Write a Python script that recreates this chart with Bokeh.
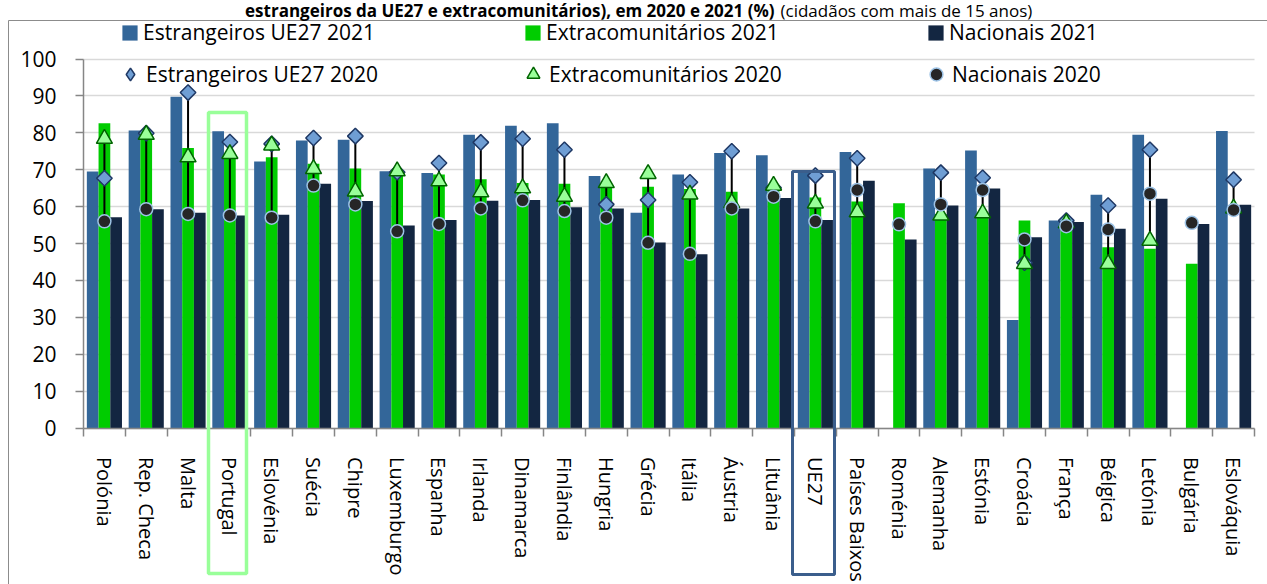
import math
import numpy as np
from bokeh.plotting import figure
from bokeh.models import (ColumnDataSource, Range1d, FixedTicker, Legend, LegendItem,
                          BoxAnnotation, Label, Grid)
from bokeh.transform import dodge
from bokeh.embed import file_html
from bokeh.resources import INLINE

nan = float("nan")

countries = ["Polónia", "Rep. Checa", "Malta", "Portugal", "Eslovénia", "Suécia", "Chipre",
             "Luxemburgo", "Espanha", "Irlanda", "Dinamarca", "Finlândia", "Hungria", "Grécia",
             "Itália", "Áustria", "Lituânia", "UE27", "Países Baixos", "Roménia", "Alemanha",
             "Estónia", "Croácia", "França", "Bélgica", "Letónia", "Bulgária", "Eslováquia"]

ue_2021 = [69.5, 80.6, 89.8, 80.4, 72.2, 77.9, 78.1, 69.6, 69.1, 79.5, 81.9, 82.6, 68.3, 58.3,
           68.7, 74.5, 73.9, 69.8, 74.8, nan, 70.3, 75.2, 29.3, 56.2, 63.2, 79.5, nan, 80.5]
extra_2021 = [82.6, 80.0, 75.9, 74.0, 73.4, 71.6, 70.3, 69.5, 68.7, 67.4, 66.4, 66.2, 65.8, 65.4,
              64.8, 64.0, 64.5, 62.5, 61.4, 60.9, 58.0, 57.5, 56.2, 55.4, 49.0, 48.6, 44.5, nan]
nac_2021 = [57.1, 59.3, 58.3, 57.6, 57.8, 66.2, 61.5, 54.9, 56.4, 61.6, 61.8, 59.8, 59.5, 50.3,
            47.1, 59.5, 62.3, 56.4, 67.0, 51.1, 60.3, 64.9, 51.7, 55.8, 54.0, 62.1, 55.3, 60.5]

ue_2020 = [67.7, 79.9, 90.9, 77.5, 77.0, 78.6, 79.1, 69.3, 71.8, 77.4, 78.4, 75.4, 60.6, 61.8,
           66.6, 75.0, 65.1, 68.4, 73.1, nan, 69.2, 67.8, 44.8, 56.2, 60.3, 75.4, nan, 67.3]
extra_2020 = [78.4, 79.5, 73.4, 74.3, 76.6, 70.2, 64.1, 69.6, 66.9, 63.9, 65.0, 62.7, 66.4, 68.9,
              63.3, 61.0, 65.7, 60.9, 58.5, nan, 57.6, 58.2, 44.5, 55.5, 44.5, 50.8, nan, 59.5]
nac_2020 = [56.0, 59.3, 58.0, 57.6, 57.0, 65.7, 60.6, 53.3, 55.3, 59.5, 61.7, 58.8, 57.0, 50.2,
            47.2, 59.5, 62.7, 56.0, 64.5, 55.2, 60.6, 64.5, 51.1, 54.7, 53.8, 63.5, 55.6, 59.1]

y_ticks = [0, 10, 20, 30, 40, 50, 60, 70, 80, 90, 100]

title_bold = "estrangeiros da UE27 e extracomunitários), em 2020 e 2021 (%)"
title_rest = "(cidadãos com mais de 15 anos)"

FONT = "Open Sans"
W_PX, H_PX = 1267, 584

# ---- layout (page pixels -> data) ----
N = len(countries)
AX_L, AX_R = 83.0, 1254.0          # plot area left/right in px
Y0_PX, PX_PER_UNIT = 427.5, 3.69   # y=0 position and scale
cat_px = (AX_R - AX_L) / N


def dx(px):
    return -0.5 + (px - AX_L) / cat_px


def dy(py):
    return (Y0_PX - py) / PX_PER_UNIT


idx = list(range(N))
m20 = np.vstack([np.array(ue_2020), np.array(extra_2020), np.array(nac_2020)])
lo = np.nanmin(m20, axis=0)
hi = np.nanmax(m20, axis=0)

src = ColumnDataSource(dict(x=idx, ue21=ue_2021, ex21=extra_2021, na21=nac_2021,
                            ue20=ue_2020, ex20=extra_2020, na20=nac_2020, lo=lo, hi=hi))

p = figure(width=W_PX, height=H_PX, x_range=Range1d(dx(0), dx(W_PX)),
           y_range=Range1d(dy(H_PX), dy(0)), output_backend="svg", toolbar_location=None,
           min_border=0, min_border_left=0, min_border_right=0, min_border_top=0,
           min_border_bottom=0)
p.outline_line_color = None
p.background_fill_color = "white"
p.border_fill_color = "white"

# outer chart border
p.add_layout(BoxAnnotation(left=dx(8), right=dx(W_PX + 20), top=dy(20), bottom=dy(H_PX + 20),
                           fill_alpha=0, fill_color=None, line_color="#8c8c8c",
                           line_alpha=1, line_width=1, level="underlay"))

# grid
p.xgrid.visible = False
p.ygrid.visible = False
grid = Grid(dimension=1, ticker=FixedTicker(ticks=y_ticks), grid_line_color="#D9D9D9",
            grid_line_width=1.5, level="underlay")
if "cross_bounds" in Grid.properties():
    grid.cross_bounds = (-0.5, N - 0.5)
    p.add_layout(grid)
else:
    p.segment(x0=[-0.5] * len(y_ticks), x1=[N - 0.5] * len(y_ticks), y0=y_ticks, y1=y_ticks,
              line_color="#D9D9D9", line_width=1.5, level="underlay")

W = 0.28
r_ue21 = p.vbar(x=dodge("x", -W), top="ue21", width=W, source=src,
                fill_color="#336699", line_color=None)
r_ex21 = p.vbar(x="x", top="ex21", width=W, source=src,
                fill_color="#00CC00", line_color=None)
r_na21 = p.vbar(x=dodge("x", W), top="na21", width=W, source=src,
                fill_color="#132641", line_color=None)

p.segment(x0="x", y0="lo", x1="x", y1="hi", source=src, line_color="black", line_width=2)

diamond_style = dict(fill_color="#6F9ED4", line_color="#1F3864", line_width=1.5)
tri_style = dict(fill_color="#99FF99", line_color="#006400", line_width=1.5)
dot_style = dict(fill_color="#262626", line_color="#9DC3E6", line_width=1.5)

r_ue20 = p.scatter(x="x", y="ue20", source=src, marker="square", angle=math.pi / 4, size=11,
                   **diamond_style)
r_ex20 = p.scatter(x="x", y="ex20", source=src, marker="triangle", size=16, **tri_style)
r_na20 = p.scatter(x="x", y="na20", source=src, marker="circle", size=13, **dot_style)
# legend proxy for the diamond symbol (legend glyphs ignore marker angle)
r_ue20_leg = p.scatter(x=[nan], y=[nan], marker="diamond", size=16, **diamond_style)

# axes (fixed at the plot-area edges)
p.yaxis.fixed_location = -0.5
p.yaxis.bounds = (0, 100)
p.yaxis.ticker = FixedTicker(ticks=y_ticks)
p.yaxis.axis_line_color = "#868686"
p.yaxis.axis_line_width = 1.5
p.yaxis.major_tick_line_color = "#868686"
p.yaxis.major_tick_line_width = 1.5
p.yaxis.major_tick_out = 8
p.yaxis.major_tick_in = 0
p.yaxis.minor_tick_line_color = None
p.yaxis.major_label_standoff = 19
p.yaxis.major_label_text_font = FONT
p.yaxis.major_label_text_font_size = "21px"
p.yaxis.major_label_text_color = "black"

p.xaxis.fixed_location = 0
p.xaxis.bounds = (-0.5, N - 0.5)
p.xaxis.ticker = FixedTicker(ticks=idx, minor_ticks=[i - 0.5 for i in range(N + 1)])
p.xaxis.major_label_overrides = {i: c for i, c in enumerate(countries)}
p.xaxis.major_label_orientation = "vertical"
p.xaxis.axis_line_color = "#868686"
p.xaxis.axis_line_width = 1.5
p.xaxis.major_tick_line_color = None
p.xaxis.major_tick_out = 0
p.xaxis.major_tick_in = 0
p.xaxis.minor_tick_line_color = "#868686"
p.xaxis.minor_tick_line_width = 1.5
p.xaxis.minor_tick_out = 8
p.xaxis.minor_tick_in = 0
p.xaxis.major_label_standoff = 21
p.xaxis.major_label_text_font = FONT
p.xaxis.major_label_text_font_size = "20px"
p.xaxis.major_label_text_color = "black"

# legends (two rows)
common = dict(orientation="horizontal", padding=0, margin=0, border_line_color=None,
              background_fill_alpha=0, label_text_font=FONT, label_text_font_size="21px",
              label_text_color="black", spacing=0)
legA = Legend(items=[LegendItem(label="Estrangeiros UE27 2021", renderers=[r_ue21]),
                     LegendItem(label="Extracomunitários 2021", renderers=[r_ex21]),
                     LegendItem(label="Nacionais 2021", renderers=[r_na21])],
              location=(120, H_PX - 46), glyph_width=19, glyph_height=19, label_standoff=4,
              label_width=380, label_height=24, **common)
legB = Legend(items=[LegendItem(label="Estrangeiros UE27 2020", renderers=[r_ue20_leg]),
                     LegendItem(label="Extracomunitários 2020", renderers=[r_ex20]),
                     LegendItem(label="Nacionais 2020", renderers=[r_na20])],
              location=(114, H_PX - 90), glyph_width=32, glyph_height=32, label_standoff=0,
              label_width=371, label_height=24, **common)
p.add_layout(legA, "center")
p.add_layout(legB, "center")

# highlight boxes
p.add_layout(BoxAnnotation(left=dx(208), right=dx(246), top=dy(112), bottom=dy(573),
                           fill_color=None, fill_alpha=0, line_color="#99FF99", line_alpha=1,
                           line_width=3.5, level="overlay"))
p.add_layout(BoxAnnotation(left=dx(792), right=dx(834), top=dy(171), bottom=dy(574),
                           fill_color=None, fill_alpha=0, line_color="#3B5E8C", line_alpha=1,
                           line_width=3, level="overlay"))

# title
p.add_layout(Label(x=dx(774), y=dy(9.5), text=title_bold, text_align="right",
                   text_baseline="middle", text_font=FONT, text_font_size="17px",
                   text_font_style="bold", text_color="black"))
p.add_layout(Label(x=dx(780), y=dy(9.5), text=title_rest, text_align="left",
                   text_baseline="middle", text_font=FONT, text_font_size="17px",
                   text_color="black"))

open("out.html", "w").write(file_html(p, INLINE))
